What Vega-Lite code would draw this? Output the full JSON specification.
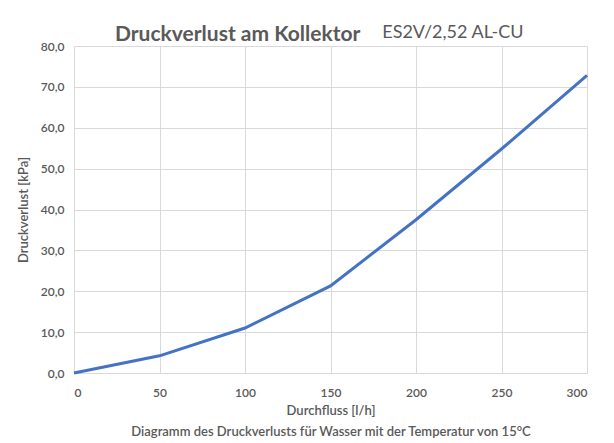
{
  "$schema": "https://vega.github.io/schema/vega-lite/v6.json",
  "width": 513,
  "height": 327,
  "autosize": "none",
  "padding": {"left": 74, "top": 46, "right": 27, "bottom": 70},
  "background": "white",
  "config": {
    "locale": {"number": {"decimal": ",", "thousands": ".", "grouping": [3], "currency": ["", " €"]}},
    "font": "Lato",
    "view": {"stroke": null}
  },
  "title": {
    "text": "Druckverlust am Kollektor",
    "subtitle": "\u200b\u00a0\u00a0\u00a0\u00a0\u00a0\u00a0\u00a0\u00a0\u00a0\u00a0\u00a0\u00a0\u00a0\u00a0\u00a0\u00a0\u00a0\u00a0\u00a0\u00a0\u00a0\u00a0\u00a0\u00a0\u00a0\u00a0\u00a0\u00a0\u00a0\u00a0\u00a0\u00a0\u00a0\u00a0\u00a0\u00a0\u00a0\u00a0\u00a0\u00a0\u00a0\u00a0\u00a0\u00a0\u00a0\u00a0\u00a0\u00a0\u00a0\u00a0\u00a0\u00a0\u00a0\u00a0\u00a0\u00a0\u00a0\u00a0ES2V/2,52 AL-CU",
    "anchor": "start",
    "frame": "group",
    "dx": 41,
    "offset": -5,
    "font": "Lato",
    "fontSize": 21,
    "fontWeight": "bold",
    "color": "#595959",
    "subtitleFont": "Lato",
    "subtitleFontSize": 18,
    "subtitleColor": "#595959",
    "subtitlePadding": -21
  },
  "data": {
    "values": [
      {"flow": 0, "loss": 0},
      {"flow": 50, "loss": 4.2},
      {"flow": 100, "loss": 11.0},
      {"flow": 150, "loss": 21.3},
      {"flow": 200, "loss": 37.5},
      {"flow": 250, "loss": 54.8},
      {"flow": 300, "loss": 72.8}
    ]
  },
  "mark": {"type": "line", "color": "#4472C4", "strokeWidth": 3},
  "encoding": {
    "x": {
      "field": "flow",
      "type": "quantitative",
      "scale": {"domain": [0, 300], "nice": false},
      "axis": {
        "values": [0, 50, 100, 150, 200, 250, 300],
        "title": ["Durchfluss [l/h]", "Diagramm des Druckverlusts für Wasser mit der Temperatur von 15°C"],
        "titleFontSize": 13,
        "titleFontWeight": 600,
        "titleColor": "#595959",
        "titleLineHeight": 21,
        "titlePadding": 6,
        "labelFontSize": 12,
        "labelFontWeight": 600,
        "labelColor": "#595959",
        "labelPadding": 14,
        "ticks": false,
        "domainColor": "#d9d9d9",
        "gridColor": "#d9d9d9",
        "format": "d"
      }
    },
    "y": {
      "field": "loss",
      "type": "quantitative",
      "scale": {"domain": [0, 80], "nice": false},
      "axis": {
        "values": [0, 10, 20, 30, 40, 50, 60, 70, 80],
        "format": ".1f",
        "title": "Druckverlust [kPa]",
        "titleFontSize": 13,
        "titleFontWeight": 600,
        "titleColor": "#595959",
        "titlePadding": 10,
        "labelFontSize": 12,
        "labelFontWeight": 600,
        "labelColor": "#595959",
        "labelPadding": 10,
        "ticks": false,
        "domain": false,
        "gridColor": "#d9d9d9"
      }
    }
  }
}
